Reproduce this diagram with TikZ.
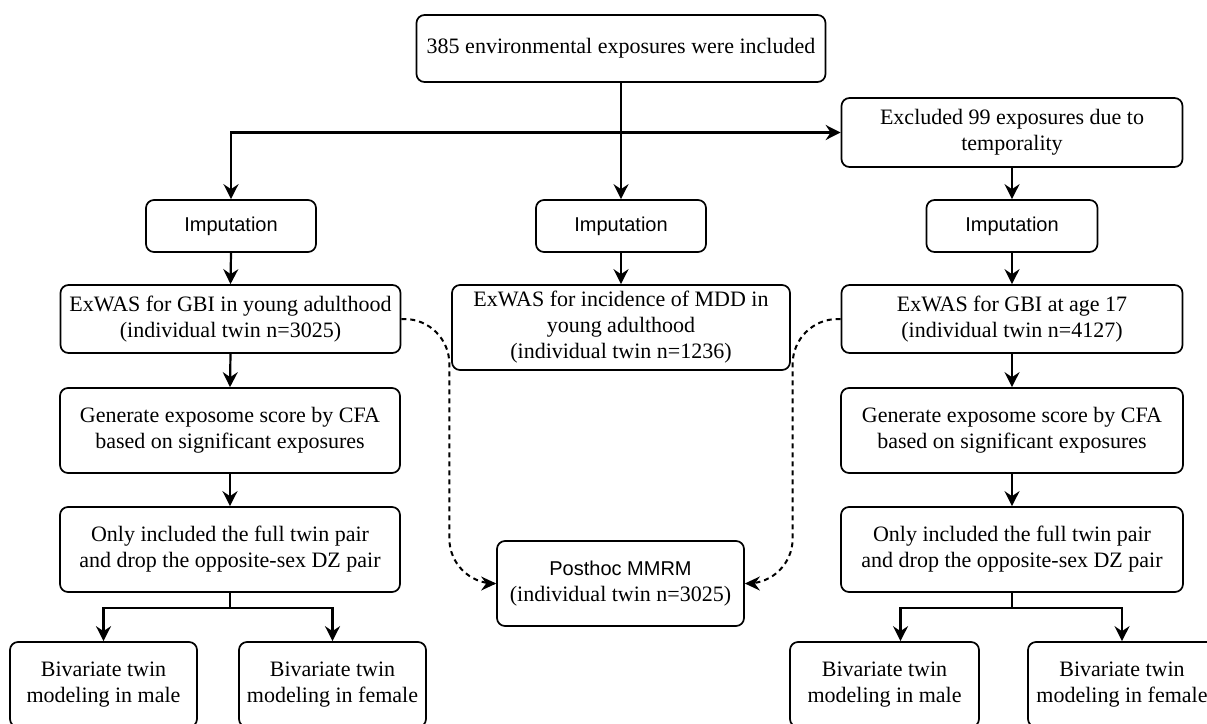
\documentclass[tikz,border=0pt]{standalone}
\usepackage{fontspec}
\setmainfont{Liberation Serif}
\setsansfont{Liberation Sans}
\usetikzlibrary{arrows.meta}
\begin{document}
\begin{tikzpicture}[x=1pt,y=-1pt,
  box/.style={draw,line width=1.7pt,rounded corners=8pt,align=center,inner sep=0pt,font=\fontsize{22}{26}\selectfont},
  sbox/.style={box,font=\sffamily\fontsize{20}{24}\selectfont},
  arr/.style={line width=2.2pt,-{Stealth[length=15pt,width=15pt,inset=5pt]}},
  dsh/.style={line width=2pt,dash pattern=on 5pt off 4pt,rounded corners=45pt,-{Stealth[length=15pt,width=14pt,inset=5pt]}}]
\clip (0,0) rectangle (1207,723);
\fill[white] (0,0) rectangle (1207,723);
\draw (621,48.5) node[box,minimum width=409pt,minimum height=67pt] (top) {385 environmental exposures were included};
\draw (1012,132.5) node[box,minimum width=341pt,minimum height=69pt] (excl) {Excluded 99 exposures due to\\temporality};
% imputation
\draw (231,226) node[sbox,minimum width=170pt,minimum height=52pt] (impL) {Imputation};
\draw (621,226) node[sbox,minimum width=170pt,minimum height=52pt] (impM) {Imputation};
\draw (1012,226) node[sbox,minimum width=171pt,minimum height=52pt] (impR) {Imputation};
% exwas
\draw (230.5,319) node[box,minimum width=340pt,minimum height=68pt] (exL) {ExWAS for GBI in young adulthood\\(individual twin n=3025)};
\draw (621,327.5) node[box,minimum width=338pt,minimum height=85pt] (exM) {ExWAS for incidence of MDD in\\young adulthood\\(individual twin n=1236)};
\draw (1012,319) node[box,minimum width=341pt,minimum height=68pt] (exR) {ExWAS for GBI at age 17\\(individual twin n=4127)};
% cfa
\draw (230,430.5) node[box,minimum width=340pt,minimum height=85pt] (cfaL) {Generate exposome score by CFA\\based on significant exposures};
\draw (1012,430.5) node[box,minimum width=342pt,minimum height=85pt] (cfaR) {Generate exposome score by CFA\\based on significant exposures};
\draw (230,549.5) node[box,minimum width=340pt,minimum height=85pt] (onlyL) {Only included the full twin pair\\and drop the opposite-sex DZ pair};
\draw (1012,549.5) node[box,minimum width=342pt,minimum height=85pt] (onlyR) {Only included the full twin pair\\and drop the opposite-sex DZ pair};
\draw (620.5,583.5) node[box,minimum width=247pt,minimum height=85pt] (post) {\sffamily\fontsize{20}{24}\selectfont Posthoc MMRM\\(individual twin n=3025)};
% bivariate
\draw (103.5,684.5) node[box,minimum width=187pt,minimum height=85pt] (bivL1) {Bivariate twin\\modeling in male};
\draw (332.5,684.5) node[box,minimum width=187pt,minimum height=85pt] (bivL2) {Bivariate twin\\modeling in female};
\draw (884.5,684.5) node[box,minimum width=189pt,minimum height=85pt] (bivR1) {Bivariate twin\\modeling in male};
\draw (1122,684.5) node[box,minimum width=188pt,minimum height=85pt] (bivR2) {Bivariate twin\\modeling in female};
\coordinate (brL) at (230,608);
\coordinate (brR) at (1012,608);
% connectors
\draw[arr] (top.south) -- (impM.north);
\draw[arr] (top.south |- excl.west) -| (impL.north);
\draw[arr] (top.south |- excl.west) -- (excl.west);
\draw[arr] (excl.south) -- (impR.north);
\draw[arr] (impL.south) -- (exL.north);
\draw[arr] (impM.south) -- (exM.north);
\draw[arr] (impR.south) -- (exR.north);
\draw[arr] (exL.south) -- (cfaL.north);
\draw[arr] (exR.south) -- (cfaR.north);
\draw[arr] (cfaL.south) -- (onlyL.north);
\draw[arr] (cfaR.south) -- (onlyR.north);
\draw[line width=2.2pt] (onlyL.south) -- (brL);
\draw[line width=2.2pt] (onlyR.south) -- (brR);
\draw[arr] (brL) -| (bivL1.north);
\draw[arr] (brL) -| (bivL2.north);
\draw[arr] (brR) -| ([xshift=16pt]bivR1.north);
\draw[arr] (brR) -| (bivR2.north);
\draw[dsh] (exL.east) -- ++(48,0) |- (post.west);
\draw[dsh] (exR.west) -- ++(-48,0) |- (post.east);
\end{tikzpicture}
\end{document}
